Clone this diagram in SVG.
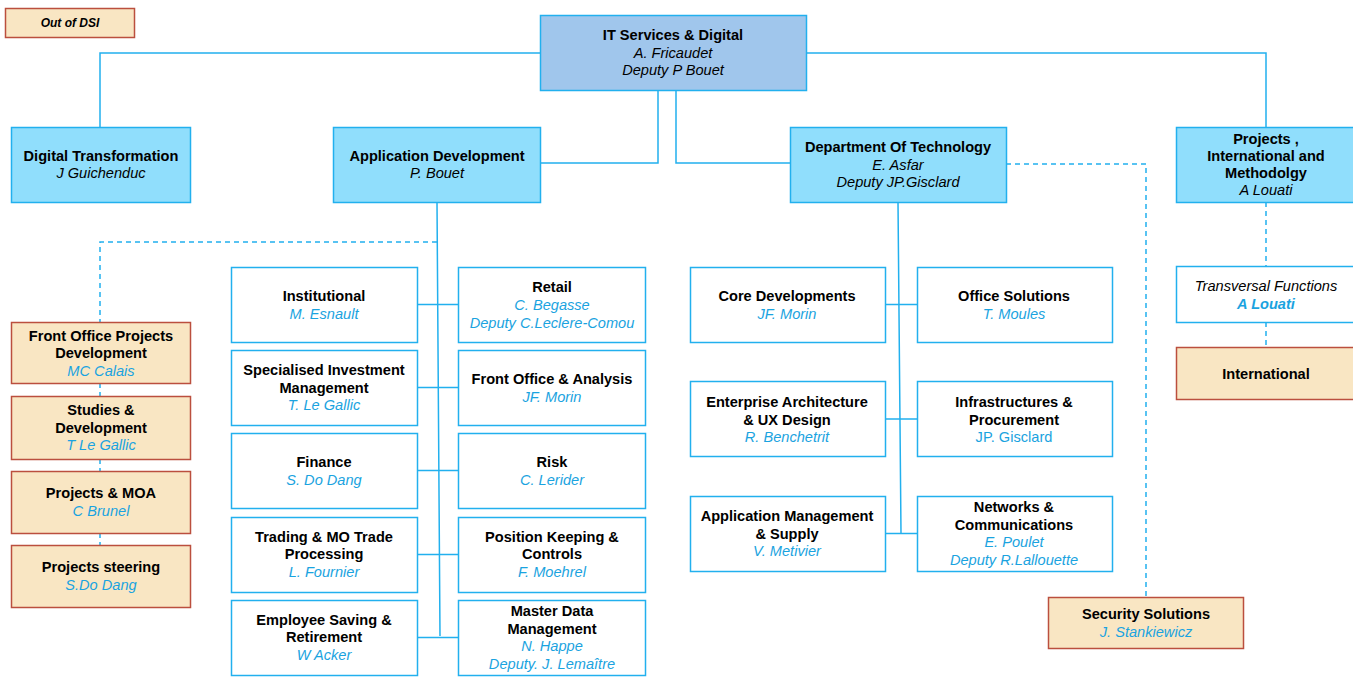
<svg xmlns="http://www.w3.org/2000/svg" width="1353" height="684" viewBox="0 0 1353 684">
<style>
.b{stroke:#22b0ee;stroke-width:1.5;fill:#fff}
.top{fill:#a0c6ec}
.l2{fill:#90defc}
.tan{fill:#f9e6c3;stroke:#bb4f3e;stroke-width:1.5}
text{font-family:"Liberation Sans",Arial,sans-serif;font-size:14.6px;text-anchor:middle;fill:#000}
.t{font-weight:bold}
.n{font-style:italic;fill:#1aa3e0}
.k{font-style:italic;fill:#000}
.c{fill:none;stroke:#22b0ee;stroke-width:1.5}
.d{fill:none;stroke:#22b0ee;stroke-width:1.5;stroke-dasharray:5,4}
</style>
<rect width="1353" height="684" fill="#fff"/>
<g id="connectors">
<path class="c" d="M540,53H100V127M806,53H1266V127"/>
<path class="c" d="M658,90V163H541M676,90V163H790"/>
<path class="c" d="M437,202L440,636M417,304.5H458M417,387.5H458M417,470.5H458M417,554.5H458M417,637.5H458"/>
<path class="c" d="M898,202L901,534M885,304.5H917M885,419H917M885,533.5H917"/>
<path class="d" d="M437,242H100V322M100,383V396M100,459V471M100,533V545"/>
<path class="d" d="M1006,164H1146V597"/>
<path class="d" d="M1266,202V266M1266,322V347"/>
</g>
<g id="outdsi"><rect class="tan" x="5.5" y="8.5" width="129" height="29"/><text class="t" style="font-style:italic;font-size:12px" x="70" y="27">Out of DSI</text></g>
<g id="it"><rect class="b top" x="540.5" y="15.5" width="266" height="75"/><text class="t" x="673" y="40">IT Services &amp; Digital</text><text class="k" x="673" y="57.5">A. Fricaudet</text><text class="k" x="673" y="75">Deputy P Bouet</text></g>
<g id="digital"><rect class="b l2" x="11.5" y="127.5" width="179" height="75"/><text class="t" x="101" y="161">Digital Transformation</text><text class="k" x="101" y="178">J Guichenduc</text></g>
<g id="appdev"><rect class="b l2" x="333.5" y="127.5" width="207" height="75"/><text class="t" x="437" y="161">Application Development</text><text class="k" x="437" y="178">P. Bouet</text></g>
<g id="dot"><rect class="b l2" x="790.5" y="127.5" width="216" height="75"/><text class="t" x="898" y="152">Department Of Technology</text><text class="k" x="898" y="170">E. Asfar</text><text class="k" x="898" y="187">Deputy JP.Gisclard</text></g>
<g id="projects"><rect class="b l2" x="1176.5" y="127.5" width="185" height="75"/><text class="t" x="1266" y="144">Projects ,</text><text class="t" x="1266" y="161">International and</text><text class="t" x="1266" y="178">Methodolgy</text><text class="k" x="1266" y="195">A Louati</text></g>
<g id="fop"><rect class="tan" x="11.5" y="322.5" width="179" height="61"/><text class="t" x="101" y="341">Front Office Projects</text><text class="t" x="101" y="358">Development</text><text class="n" x="101" y="376">MC Calais</text></g>
<g id="studies"><rect class="tan" x="11.5" y="396.5" width="179" height="63"/><text class="t" x="101" y="415">Studies &amp;</text><text class="t" x="101" y="433">Development</text><text class="n" x="101" y="450">T Le Gallic</text></g>
<g id="moa"><rect class="tan" x="11.5" y="471.5" width="179" height="62"/><text class="t" x="101" y="498">Projects &amp; MOA</text><text class="n" x="101" y="516">C Brunel</text></g>
<g id="steering"><rect class="tan" x="11.5" y="545.5" width="179" height="62"/><text class="t" x="101" y="572">Projects steering</text><text class="n" x="101" y="590">S.Do Dang</text></g>
<g id="institutional"><rect class="b" x="231.5" y="267.5" width="186" height="75"/><text class="t" x="324" y="301">Institutional</text><text class="n" x="324" y="319">M. Esnault</text></g>
<g id="sim"><rect class="b" x="231.5" y="350.5" width="186" height="75"/><text class="t" x="324" y="375">Specialised Investment</text><text class="t" x="324" y="393">Management</text><text class="n" x="324" y="410">T. Le Gallic</text></g>
<g id="finance"><rect class="b" x="231.5" y="433.5" width="186" height="75"/><text class="t" x="324" y="467">Finance</text><text class="n" x="324" y="485">S. Do Dang</text></g>
<g id="trading"><rect class="b" x="231.5" y="517.5" width="186" height="75"/><text class="t" x="324" y="542">Trading &amp; MO Trade</text><text class="t" x="324" y="559">Processing</text><text class="n" x="324" y="577">L. Fournier</text></g>
<g id="employee"><rect class="b" x="231.5" y="600.5" width="186" height="75"/><text class="t" x="324" y="625">Employee Saving &amp;</text><text class="t" x="324" y="642">Retirement</text><text class="n" x="324" y="660">W Acker</text></g>
<g id="retail"><rect class="b" x="458.5" y="267.5" width="187" height="75"/><text class="t" x="552" y="292">Retail</text><text class="n" x="552" y="310">C. Begasse</text><text class="n" x="552" y="328">Deputy C.Leclere-Comou</text></g>
<g id="foa"><rect class="b" x="458.5" y="350.5" width="187" height="75"/><text class="t" x="552" y="384">Front Office &amp; Analysis</text><text class="n" x="552" y="402">JF. Morin</text></g>
<g id="risk"><rect class="b" x="458.5" y="433.5" width="187" height="75"/><text class="t" x="552" y="467">Risk</text><text class="n" x="552" y="485">C. Lerider</text></g>
<g id="position"><rect class="b" x="458.5" y="517.5" width="187" height="75"/><text class="t" x="552" y="542">Position Keeping &amp;</text><text class="t" x="552" y="559">Controls</text><text class="n" x="552" y="577">F. Moehrel</text></g>
<g id="mdm"><rect class="b" x="458.5" y="600.5" width="187" height="75"/><text class="t" x="552" y="616">Master Data</text><text class="t" x="552" y="634">Management</text><text class="n" x="552" y="651">N. Happe</text><text class="n" x="552" y="669">Deputy. J. Lemaître</text></g>
<g id="core"><rect class="b" x="690.5" y="267.5" width="195" height="75"/><text class="t" x="787" y="301">Core Developments</text><text class="n" x="787" y="319">JF. Morin</text></g>
<g id="office"><rect class="b" x="917.5" y="267.5" width="195" height="75"/><text class="t" x="1014" y="301">Office Solutions</text><text class="n" x="1014" y="319">T. Moules</text></g>
<g id="ea"><rect class="b" x="690.5" y="381.5" width="195" height="75"/><text class="t" x="787" y="407">Enterprise Architecture</text><text class="t" x="787" y="425">&amp; UX Design</text><text class="n" x="787" y="442">R. Benchetrit</text></g>
<g id="infra"><rect class="b" x="917.5" y="381.5" width="195" height="75"/><text class="t" x="1014" y="407">Infrastructures &amp;</text><text class="t" x="1014" y="425">Procurement</text><text class="n" x="1014" y="442" style="font-style:normal">JP. Gisclard</text></g>
<g id="ams"><rect class="b" x="690.5" y="496.5" width="195" height="75"/><text class="t" x="787" y="521">Application Management</text><text class="t" x="787" y="539">&amp; Supply</text><text class="n" x="787" y="556">V. Metivier</text></g>
<g id="networks"><rect class="b" x="917.5" y="496.5" width="195" height="75"/><text class="t" x="1014" y="512">Networks &amp;</text><text class="t" x="1014" y="530">Communications</text><text class="n" x="1014" y="547">E. Poulet</text><text class="n" x="1014" y="565">Deputy R.Lallouette</text></g>
<g id="transversal"><rect class="b" x="1176.5" y="266.5" width="185" height="56"/><text class="k" x="1266" y="291">Transversal Functions</text><text class="n t" x="1266" y="309">A Louati</text></g>
<g id="international"><rect class="tan" x="1176.5" y="347.5" width="185" height="52"/><text class="t" x="1266" y="379">International</text></g>
<g id="security"><rect class="tan" x="1048.5" y="597.5" width="195" height="51"/><text class="t" x="1146" y="619">Security Solutions</text><text class="n" x="1146" y="637">J. Stankiewicz</text></g>
</svg>
